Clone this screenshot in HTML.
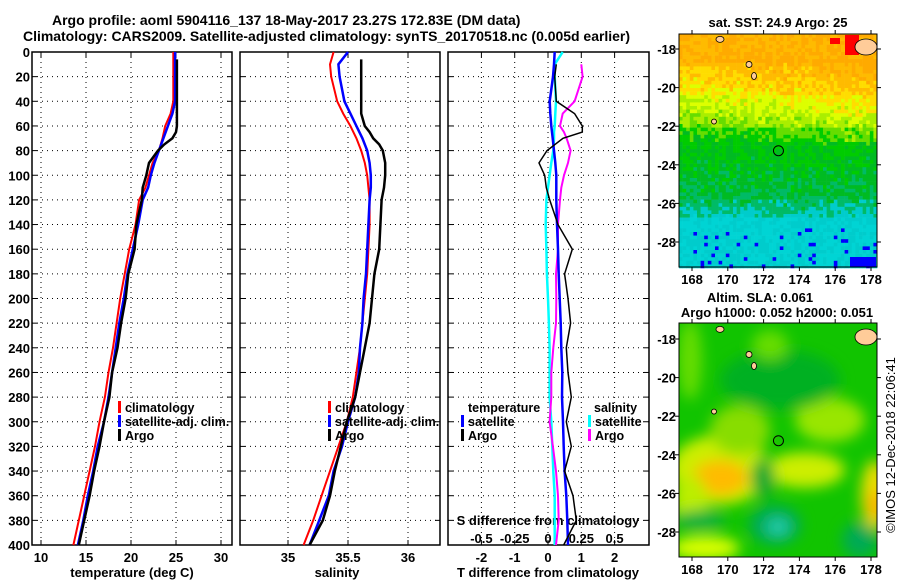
<!DOCTYPE html>
<html><head><meta charset="utf-8">
<style>
html,body{margin:0;padding:0;background:#fff;}
svg{display:block;font-family:"Liberation Sans",Arial,sans-serif;font-weight:bold;}
</style></head>
<body>
<svg id="chart" width="900" height="580" viewBox="0 0 900 580">
<text x="52" y="25" font-size="14">Argo profile: aoml 5904116_137 18-May-2017 23.27S 172.83E (DM data)</text>
<text x="23" y="41" font-size="14" textLength="607">Climatology: CARS2009. Satellite-adjusted climatology: synTS_20170518.nc (0.005d earlier)</text>
<g id="plots"></g>
<g id="maps"></g>
<text transform="translate(895,445) rotate(-90)" text-anchor="middle" font-size="13" font-weight="normal">©IMOS 12-Dec-2018 22:06:41</text>
</svg>
<script>
// ---------- data ----------
const depths = [0,10,20,40,50,60,70,80,90,100,110,120,140,160,180,200,220,240,260,280,300,320,340,360,380,400];
const tempClim = [24.7,24.7,24.7,24.7,24.4,23.8,23.5,23.1,22.4,22.0,21.6,20.9,20.5,19.8,19.3,18.8,18.4,18.0,17.5,17.1,16.5,16.0,15.4,14.8,14.2,13.6];
const tempSat  = [24.9,24.9,24.9,24.9,24.6,24.1,23.6,23.1,22.6,22.2,21.9,21.3,20.8,20.2,19.6,19.2,18.7,18.3,17.9,17.5,17.0,16.3,15.8,15.2,14.7,14.1];
const argoDepths = [6,20,40,50,60,65,70,75,80,90,100,110,120,140,160,180,200,220,240,260,280,300,320,340,360,380,400];
const tempArgo = [25.1,25.1,25.1,25.1,25.1,25.0,24.6,23.7,23.0,22.0,21.7,21.3,21.2,20.6,20.4,19.7,19.4,18.9,18.5,17.9,17.6,17.0,16.5,15.9,15.4,14.8,14.2];
const salClim = [35.38,35.35,35.36,35.41,35.46,35.52,35.57,35.61,35.64,35.66,35.67,35.68,35.68,35.67,35.66,35.64,35.62,35.60,35.57,35.54,35.49,35.42,35.35,35.28,35.21,35.13];
const salSat  = [35.50,35.42,35.43,35.47,35.52,35.57,35.62,35.66,35.68,35.69,35.69,35.68,35.67,35.66,35.65,35.63,35.62,35.60,35.59,35.56,35.50,35.45,35.38,35.34,35.26,35.18];
const salArgo = [35.61,35.61,35.61,35.61,35.64,35.68,35.71,35.76,35.79,35.81,35.81,35.80,35.78,35.77,35.76,35.72,35.70,35.68,35.64,35.60,35.56,35.49,35.44,35.39,35.35,35.29,35.18];
const diffDepths = [0,10,20,40,50,60,65,70,80,90,100,110,120,140,160,180,200,220,240,260,280,300,320,340,360,380,400];
const dTsat  = [0.20,0.18,0.15,0.05,0.07,0.10,0.12,0.14,0.18,0.22,0.25,0.25,0.25,0.27,0.30,0.32,0.35,0.38,0.40,0.43,0.42,0.45,0.47,0.50,0.55,0.58,0.60];
const dTargo = [null,0.25,0.20,0.25,0.80,1.03,1.03,0.45,-0.03,-0.27,-0.10,-0.05,0.05,0.30,0.73,0.50,0.60,0.68,0.55,0.60,0.70,0.55,0.70,0.50,0.75,0.85,0.47];
const dSsat  = [0.11,0.05,0.05,0.06,0.055,0.05,0.045,0.045,0.04,0.025,0.012,0.0,-0.012,-0.017,-0.012,-0.008,0.0,0.007,0.012,0.012,0.012,0.025,0.032,0.04,0.05,0.05,0.05];
const dSargo = [null,0.25,0.26,0.20,0.11,0.09,0.12,0.14,0.17,0.15,0.12,0.10,0.09,0.075,0.075,0.06,0.062,0.06,0.04,0.025,0.025,0.012,0.037,0.06,0.075,0.08,0.06];
const depthTicks = [0,20,40,60,80,100,120,140,160,180,200,220,240,260,280,300,320,340,360,380,400];
const tTicks = [10,15,20,25,30];
const sTicks = [35,35.5,36];
const dTTicks = [-2,-1,0,1,2];
const dSTicks = [-0.5,-0.25,0,0.25,0.5];
const dSTickLabels = ["-0.5","-0.25","0","0.25","0.5"];

const NS="http://www.w3.org/2000/svg";
function mk(tag, attrs, parent){const e=document.createElementNS(NS,tag);for(const k in attrs)e.setAttribute(k,attrs[k]);parent.appendChild(e);return e;}
const plots=document.getElementById('plots');
const top0=52, bot=545;
const yD = d => top0 + d*(bot-top0)/400;
const xT = t => 41 + (t-10)*9.0;
const xS = s => 288 + (s-35)*120;
const xDT = t => 548 + t*33.3;
const xDS = s => 548 + s*133.2;

function panel(x0,x1,name,xticks,xf){
  const g=mk('g',{},plots);
  
  
  depthTicks.forEach(d=>{ if(d>0&&d<400){mk('line',{x1:x0,x2:x1,y1:yD(d),y2:yD(d),stroke:'#000','stroke-width':1,'stroke-dasharray':'1,4'},g);} 
    mk('line',{x1:x0,x2:x0+5,y1:yD(d),y2:yD(d),stroke:'#000'},g); mk('line',{x1:x1-5,x2:x1,y1:yD(d),y2:yD(d),stroke:'#000'},g);});
  xticks.forEach(t=>{const x=xf(t); mk('line',{x1:x,x2:x,y1:top0,y2:bot,stroke:'#000','stroke-width':1,'stroke-dasharray':'1,4'},g);
    mk('line',{x1:x,x2:x,y1:bot-5,y2:bot,stroke:'#000'},g); mk('line',{x1:x,x2:x,y1:top0,y2:top0+5,stroke:'#000'},g);});
  mk('rect',{x:x0,y:top0,width:x1-x0,height:bot-top0,fill:'none',stroke:'#000','stroke-width':1.5},g);
  return g;
}
function line(g,ds,vs,xf,color,w,name){
  let p='';let started=false;
  ds.forEach((d,i)=>{if(vs[i]===null)return;p+=(started?'L':'M')+xf(vs[i]).toFixed(1)+','+yD(d).toFixed(1);started=true;});
  const e=mk('path',{d:p,fill:'none',stroke:color,'stroke-width':w},g);
  
  
}
function txt(g,x,y,s,anchor,name,size){const e=mk('text',{x:x,y:y,'font-size':size||13,'text-anchor':anchor||'start'},g);e.textContent=s;
  
  
  return e;}

// panel 1
const g1=panel(32,232,'temperature-panel',tTicks,xT);
depthTicks.forEach(d=>txt(g1,30,yD(d)+5,String(d),'end','depth-tick-label'));
tTicks.forEach(t=>txt(g1,xT(t),562,String(t),'middle','temperature-tick-label'));
txt(g1,132,577,'temperature (deg C)','middle','x-axis-title-temperature');
line(g1,depths,tempClim,xT,'#f00',2,'temperature-climatology-line');
line(g1,depths,tempSat,xT,'#00f',2.5,'temperature-satellite-line');
line(g1,argoDepths,tempArgo,xT,'#000',2.5,'temperature-argo-line');
function legend(g,x,y,items,name){
  items.forEach((it,i)=>{const yy=y+i*14;
    const b=mk('rect',{x:x,y:yy-11,width:3,height:12,fill:it[1]},g);
    
    
    txt(g,x+7,yy,it[0],'start',name+'-entry',12.5);});
}
legend(g1,118,412,[['climatology','#f00'],['satellite-adj. clim.','#00f'],['Argo','#000']],'temperature-legend');

// panel 2
const g2=panel(240,440,'salinity-panel',sTicks,xS);
sTicks.forEach(t=>txt(g2,xS(t),562,String(t),'middle','salinity-tick-label'));
txt(g2,337,577,'salinity','middle','x-axis-title-salinity');
line(g2,depths,salClim,xS,'#f00',2,'salinity-climatology-line');
line(g2,depths,salSat,xS,'#00f',2.5,'salinity-satellite-line');
line(g2,argoDepths,salArgo,xS,'#000',2.5,'salinity-argo-line');
legend(g2,328,412,[['climatology','#f00'],['satellite-adj. clim.','#00f'],['Argo','#000']],'salinity-legend');

// panel 3
const g3=panel(448,649,'difference-panel',dTTicks,xDT);
dTTicks.forEach(t=>txt(g3,xDT(t),562,String(t),'middle','t-difference-tick-label'));
dSTicks.forEach((t,i)=>txt(g3,xDS(t),543,dSTickLabels[i],'middle','s-difference-tick-label'));
txt(g3,548,525,'S difference from climatology','middle','s-difference-axis-title');
txt(g3,548,577,'T difference from climatology','middle','x-axis-title-t-difference');
line(g3,diffDepths,dSsat,xDS,'#0ff',2.5,'salinity-diff-satellite-line');
line(g3,diffDepths,dSargo,xDS,'#f0f',2,'salinity-diff-argo-line');
line(g3,diffDepths,dTsat,xDT,'#00f',2.5,'temperature-diff-satellite-line');
line(g3,diffDepths,dTargo,xDT,'#000',1.5,'temperature-diff-argo-line');
txt(g3,468,412,'temperature','start','legend-heading-temperature',12.5);
legend(g3,461,426,[['satellite','#00f'],['Argo','#000']],'temperature-diff-legend');
txt(g3,594,412,'salinity','start','legend-heading-salinity',12.5);
legend(g3,588,426,[['satellite','#0ff'],['Argo','#f0f']],'salinity-diff-legend');

// ---------- maps ----------
const maps=document.getElementById('maps');
const lonTicks=[168,170,172,174,176,178];
const latTicks=[-18,-20,-22,-24,-26,-28];
const mapX0=679, mapX1=877;
const lonX = lo => 692 + (lo-168)*17.9;
function hash(i,j){let h=(i*374761393+j*668265263)^0x5bd1e995;h=(h^(h>>>13))*1274126177;return ((h^(h>>>16))>>>0)/4294967296;}
function drawMap(y0,y1,lat18,name,kind){
  const g=mk('g',{},maps);
  
  
  const latY = la => lat18 + (-18-la)*19.3;
  const cw=3.6, ch=3.6;
  if(kind==='sst'){
    const pal=['#ffaa00','#ffbb00','#ffdd00','#ddff00','#aaee00','#66dd00','#00cc00','#00bb22','#00bb66','#00cccc','#00d4d4'];
    for(let r=0;r*ch<y1-y0;r++){
      const f=r*ch/(y1-y0);
      let base = f<0.12?0.5: f<0.25?1.3+ (f-0.12)*10: f<0.4?3+(f-0.25)*14: f<0.7?6+(f-0.4)*5: f<0.78?7.8+(f-0.7)*14: 9.6;
      for(let c=0;c*cw<mapX1-mapX0;c++){
        const cx=c/55;
        let v=base - (f>0.1&&f<0.45? cx*1.2:0) + (hash(r,c)-0.5)*1.8;
        v=Math.max(0,Math.min(pal.length-1,Math.round(v)));
        let col=pal[v];
        if(f>0.82 && hash(c,r+99)>0.93) col='#0000ff';
        mk('rect',{x:mapX0+c*cw,y:y0+r*ch,width:cw+0.3,height:ch+0.3,fill:col},g);
      }
    }
    mk('rect',{x:845,y:35,width:14,height:20,fill:'#f00'},g);
    mk('rect',{x:830,y:38,width:10,height:6,fill:'#f00'},g);
    mk('rect',{x:850,y:257,width:26,height:10,fill:'#0000ff'},g);
  } else {
    const defs=mk('defs',{},g);
    const f=mk('filter',{id:'blur',x:'-50%',y:'-50%',width:'200%',height:'200%'},defs);
    mk('feGaussianBlur',{stdDeviation:7},f);
    const cp=mk('clipPath',{id:'slaclip'},defs);
    mk('rect',{x:mapX0,y:y0,width:mapX1-mapX0,height:y1-y0},cp);
    const outer=mk('g',{'clip-path':'url(#slaclip)'},g);
    mk('rect',{x:mapX0,y:y0,width:mapX1-mapX0,height:y1-y0,fill:'#11c400'},outer);
    const cg=mk('g',{filter:'url(#blur)'},outer);
    [[720,470,50,35,'#ccee00'],[720,478,28,18,'#ffbb00'],[805,470,40,18,'#ccee00'],[690,500,18,25,'#bbee00'],
     [875,495,14,35,'#eedd00'],[875,505,7,14,'#ffaa00'],[830,420,35,22,'#99e600'],[740,430,30,25,'#88dd00'],
     [775,525,26,20,'#00aa55'],[778,527,12,9,'#22ccaa'],[705,548,35,12,'#ddff00'],[780,380,60,30,'#00b020'],
     [763,478,12,20,'#00a830'],[860,540,18,18,'#00aa55'],[700,520,25,10,'#00b040'],[770,345,18,15,'#66dd00'],[690,360,12,40,'#66dd00']]
     .forEach(b=>mk('ellipse',{cx:b[0],cy:b[1],rx:b[2],ry:b[3],fill:b[4]},cg));
  }
  // islands
  [[866,latY(-18)-2,11,8],[720,latY(-17.5),4,3],[749,latY(-18.8),3,3],[754,latY(-19.4),2.5,3.5],[714,latY(-21.5)+5,2.5,2.5]]
   .forEach(b=>mk('ellipse',{cx:b[0],cy:b[1],rx:b[2],ry:b[3],fill:'#ffcc99',stroke:'#000','stroke-width':0.8},g));
  const cir=mk('circle',{cx:lonX(172.83),cy:latY(-23.27),r:5,fill:'none',stroke:'#000','stroke-width':1},g);
  
  
  mk('rect',{x:mapX0,y:y0,width:mapX1-mapX0,height:y1-y0,fill:'none',stroke:'#000','stroke-width':1},g);
  lonTicks.forEach(lo=>{mk('line',{x1:lonX(lo),x2:lonX(lo),y1:y0-4,y2:y0,stroke:'#000'},g);mk('line',{x1:lonX(lo),x2:lonX(lo),y1:y1,y2:y1+4,stroke:'#000'},g);
    txt(g,lonX(lo),y1+17,String(lo),'middle',name+'-lon-label');});
  latTicks.forEach(la=>{mk('line',{x1:mapX0-4,x2:mapX0,y1:latY(la),y2:latY(la),stroke:'#000'},g);mk('line',{x1:mapX1,x2:mapX1+4,y1:latY(la),y2:latY(la),stroke:'#000'},g);
    txt(g,676,latY(la)+5,String(la),'end',name+'-lat-label');});
}
drawMap(34,267,49,'sst-map','sst');
drawMap(323,557,339,'sla-map','sla');
txt(maps,778,27,'sat. SST: 24.9 Argo: 25','middle','sst-map-title');
txt(maps,760,302,'Altim. SLA: 0.061','middle','sla-map-title');
txt(maps,777,317,'Argo h1000: 0.052 h2000: 0.051','middle','sla-map-subtitle');
</script>
</body></html>
